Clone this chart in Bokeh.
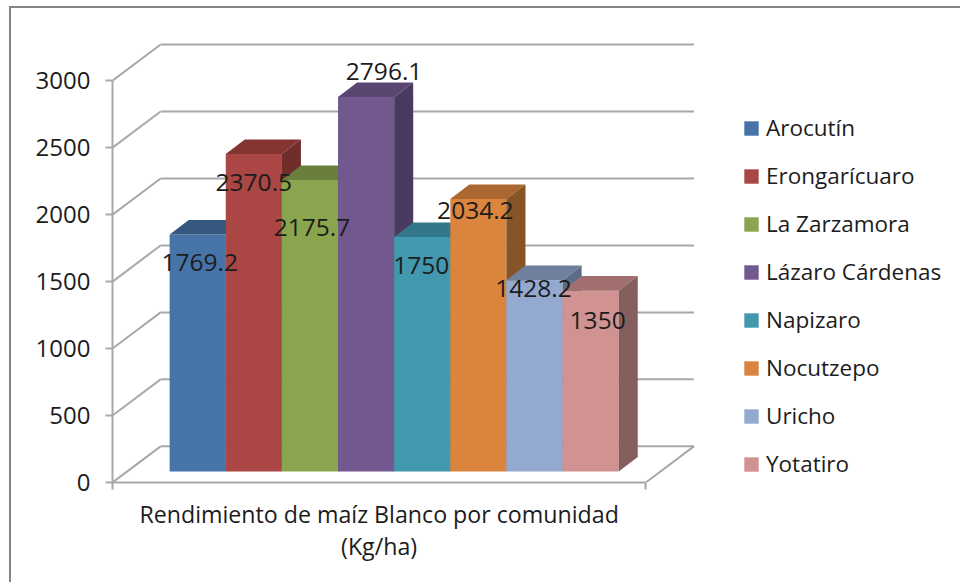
from bokeh.plotting import figure
from bokeh.models import LinearAxis, FixedTicker, Legend, LegendItem, Range1d
from bokeh.core.properties import value
from bokeh.embed import file_html
from bokeh.resources import INLINE

communities = ["Arocutín", "Erongarícuaro", "La Zarzamora", "Lázaro Cárdenas",
               "Napizaro", "Nocutzepo", "Uricho", "Yotatiro"]
yields = [1769.2, 2370.5, 2175.7, 2796.1, 1750, 2034.2, 1428.2, 1350]
value_labels = ["1769.2", "2370.5", "2175.7", "2796.1", "1750", "2034.2", "1428.2", "1350"]
y_ticks = [0, 500, 1000, 1500, 2000, 2500, 3000]
category_label = "Rendimiento de maíz Blanco por comunidad"
category_unit = "(Kg/ha)"

front_colors = ["#4674A8", "#AA4643", "#89A54E", "#71588F", "#4198AF", "#DB843D", "#93A9CF", "#D19392"]
top_colors = ["#36587F", "#843431", "#6A7F3B", "#5A4670", "#33788A", "#AA672F", "#6F809F", "#A06F6E"]
side_colors = ["#2E4B6C", "#6F2E2A", "#5A6C32", "#4A3A5F", "#2B6575", "#875426", "#5E6D87", "#855F5D"]

label_dx = [2, 0, 2, 18, -1, -3, -1, 7]
label_dy = [28, 29, 47, -25, 28, 12, 8, 30]

PX_PER_UNIT_X = 56.0
PX_PER_UNIT_Y = 400.0 / 3000.0
FONT = value("Open Sans")
GRID = "#a8a8a8"
TEXT = "#1c1c1c"

x0 = -57 / PX_PER_UNIT_X
floor_w = 532 / PX_PER_UNIT_X
wall_dx = 48 / PX_PER_UNIT_X
wall_dy = 36 / PX_PER_UNIT_Y
bar_dx = 19 / PX_PER_UNIT_X
bar_dy = 14.5 / PX_PER_UNIT_Y
base = 11 / PX_PER_UNIT_Y

p = figure(width=951, height=576, output_backend="svg", toolbar_location=None,
           x_axis_type=None, y_axis_type=None,
           x_range=Range1d(x0, x0 + 848 / PX_PER_UNIT_X),
           y_range=Range1d(0, 441 / PX_PER_UNIT_Y),
           min_border_left=101, min_border_right=0, min_border_top=31, min_border_bottom=102,
           outline_line_color=None, margin=(6, 0, 0, 9),
           styles={"border-left": "2px solid #868686", "border-top": "2px solid #868686",
                   "box-sizing": "border-box"})
p.xgrid.visible = False
p.ygrid.visible = False

# walls
p.segment(x0=[x0] * len(y_ticks), y0=y_ticks,
          x1=[x0 + wall_dx] * len(y_ticks), y1=[v + wall_dy for v in y_ticks],
          line_color=GRID, line_width=2)
p.segment(x0=[x0 + wall_dx] * len(y_ticks), y0=[v + wall_dy for v in y_ticks],
          x1=[x0 + floor_w + wall_dx] * len(y_ticks), y1=[v + wall_dy for v in y_ticks],
          line_color=GRID, line_width=2)
p.segment(x0=[x0 + floor_w], y0=[0], x1=[x0 + floor_w + wall_dx], y1=[wall_dy],
          line_color=GRID, line_width=2)

# bars
items = []
for i, name in enumerate(communities):
    top = base + yields[i]
    r = p.vbar(x=[i + 0.5], width=1, bottom=[base], top=[top],
               fill_color=front_colors[i], line_color=None)
    p.patch([i, i + 1, i + 1 + bar_dx, i + bar_dx], [top, top, top + bar_dy, top + bar_dy],
            fill_color=top_colors[i], line_color=None)
    p.patch([i + 1, i + 1 + bar_dx, i + 1 + bar_dx, i + 1],
            [base, base + bar_dy, top + bar_dy, top],
            fill_color=side_colors[i], line_color=None)
    items.append(LegendItem(label=name, renderers=[r]))

# value labels
p.text(x=[i + 0.5 for i in range(len(yields))], y=[base + v for v in yields],
       text=value_labels, x_offset=label_dx, y_offset=label_dy,
       text_font=FONT, text_font_size="24.5px", text_color=TEXT,
       text_align="center", text_baseline="middle")

# axes
yax = LinearAxis(ticker=FixedTicker(ticks=y_ticks), bounds=(0, 3000))
yax.axis_line_color = GRID
yax.axis_line_width = 2
yax.major_tick_line_color = GRID
yax.major_tick_line_width = 2
yax.major_tick_in = 0
yax.major_tick_out = 7
yax.minor_tick_line_color = None
yax.major_label_standoff = 15
yax.major_label_text_font = "Open Sans"
yax.major_label_text_font_size = "24px"
yax.major_label_text_color = TEXT
p.add_layout(yax, "left")

center = x0 + floor_w / 2
xax = LinearAxis(ticker=FixedTicker(ticks=[center], minor_ticks=[x0, x0 + floor_w]),
                 bounds=(x0, x0 + floor_w))
xax.major_label_overrides = {center: category_label}
xax.axis_line_color = GRID
xax.axis_line_width = 2
xax.major_tick_line_color = None
xax.minor_tick_line_color = GRID
xax.minor_tick_line_width = 2
xax.minor_tick_in = 0
xax.minor_tick_out = 7
xax.major_label_standoff = 8
xax.major_label_text_font = "Open Sans"
xax.major_label_text_font_size = "23.2px"
xax.major_label_text_color = TEXT
p.add_layout(xax, "below")

xax2 = LinearAxis(ticker=FixedTicker(ticks=[center]), bounds=(x0, x0 + floor_w))
xax2.major_label_overrides = {center: category_unit}
xax2.axis_line_color = None
xax2.major_tick_line_color = None
xax2.minor_tick_line_color = None
xax2.major_tick_in = 0
xax2.major_tick_out = 0
xax2.major_label_standoff = -3
xax2.major_label_text_font = "Open Sans"
xax2.major_label_text_font_size = "23.2px"
xax2.major_label_text_color = TEXT
p.add_layout(xax2, "below")

legend = Legend(items=items, location=(630, 3), padding=0, margin=0,
                glyph_width=18, glyph_height=18, label_standoff=6, spacing=17,
                background_fill_alpha=0, border_line_color=None,
                label_text_font="Open Sans", label_text_font_size="22.5px",
                label_text_color=TEXT)
p.add_layout(legend)

open("out.html", "w").write(file_html(p, INLINE))
